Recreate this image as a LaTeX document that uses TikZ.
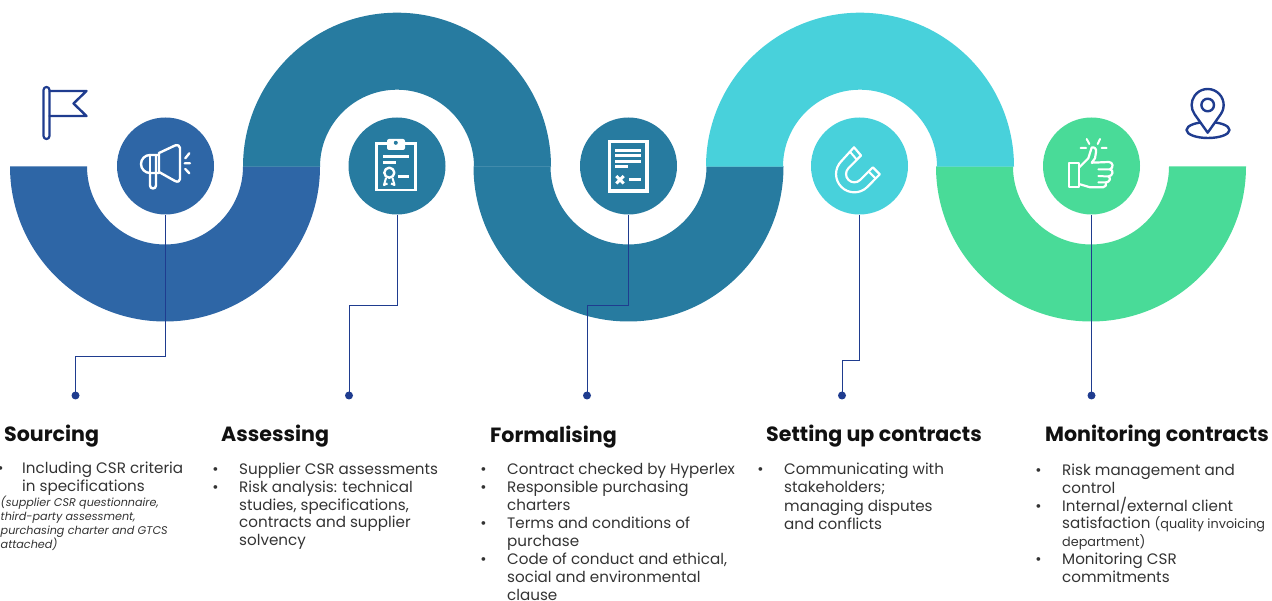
\documentclass[tikz,border=0pt]{standalone}
\usepackage{fontspec}
\setmainfont{Poppins}
\definecolor{cblue}{HTML}{2E66A6}
\definecolor{cteal}{HTML}{277BA0}
\definecolor{ccyan}{HTML}{48D1DB}
\definecolor{cgreen}{HTML}{49DB98}
\definecolor{cline}{HTML}{1F3C8F}
\definecolor{chead}{HTML}{111111}
\definecolor{cbody}{HTML}{333333}
\newcommand{\bul}{\llap{•\hspace{20.5pt}}}
\newcommand{\bulfirst}{\llap{•\hspace{18.5pt}}}
\newcommand{\smalltx}[1]{{\fontsize{12.8}{15}\selectfont #1}}
\tikzset{
  x=1pt,y=-1pt,
  hub/.style={circle,minimum size=97pt,inner sep=0pt,fill=#1},
  dotend/.style={circle,minimum size=8pt,inner sep=0pt,fill=cline},
  leader/.style={draw=cline,line width=0.9pt},
  ico/.style={draw=white,line width=2.4pt,line join=round,line cap=round},
  icob/.style={draw=cline,line width=2.4pt,line join=round,line cap=round},
  headtx/.style={anchor=north west,inner sep=0pt,text=chead,font=\fontsize{20.6}{24}\selectfont\bfseries},
  bodytx/.style={anchor=north west,inner sep=0pt,align=left,text=cbody,font=\fontsize{15.15}{#1}\selectfont},
  bodytx/.default=18.1,
  notetx/.style={anchor=north west,inner sep=0pt,align=left,text=cbody,font=\fontsize{11.2}{14}\selectfont\itshape},
}
\newcommand{\lowband}[2]{\fill[#2] (#1+155,166.5) arc[start angle=0,end angle=-180,radius=155pt] -- ++(77,0) arc[start angle=-180,end angle=0,radius=78pt] -- cycle;}
\newcommand{\upband}[2]{\fill[#2] (#1+154,166.7) arc[start angle=0,end angle=180,radius=154pt] -- ++(77,0) arc[start angle=180,end angle=0,radius=77pt] -- cycle;}
\begin{document}
\begin{tikzpicture}
\useasboundingbox (0,0) rectangle (1272,601);
% bands
\lowband{165}{cblue}
\lowband{628.5}{cteal}
\lowband{1091}{cgreen}
\upband{397}{cteal}
\upband{860}{ccyan}
% hubs
\node[hub=cblue] (h1) at (165.5,166) {};
\node[hub=cteal] (h2) at (397,166) {};
\node[hub=cteal] (h3) at (628.5,166) {};
\node[hub=ccyan] (h4) at (859.5,166) {};
\node[hub=cgreen] (h5) at (1091.5,166) {};
% end dots
\node[dotend] (d1) at (75.5,395.5) {};
\node[dotend] (d2) at (349,395.5) {};
\node[dotend] (d3) at (587,395.5) {};
\node[dotend] (d4) at (842,395.5) {};
\node[dotend] (d5) at (1091.5,395.5) {};
% leaders
\draw[leader] (h1.south) -- (165.5,356.5) -| (d1.center);
\draw[leader] (h2.south) -- (397,305.5) -| (d2.center);
\draw[leader] (h3.south) -- (628.5,305.5) -| (d3.center);
\draw[leader] (h4.south) -- (859.5,360.5) -| (d4.center);
\draw[leader] (h5.south) -- (d5.center);
% flag
\draw[icob,line width=2.2pt] (43.5,90) arc[start angle=180,end angle=0,radius=3pt] -- (49.5,136) arc[start angle=0,end angle=-180,radius=3pt] -- cycle;
\draw[icob] (49.5,91) -- (86.5,91) -- (73.5,103.5) -- (86.5,116) -- (49.5,116);
% pin
\draw[icob] (1208,130) ellipse[x radius=21.5pt,y radius=8pt];
\filldraw[icob,fill=white] (1207.7,132.7) -- (1220.7,114.25) arc[start angle=-35.3,end angle=215.3,radius=16pt] -- cycle;
\draw[icob] (1207.7,105) circle[radius=6.3pt];
% megaphone
\draw[ico] (159,153) -- (175,145.5) .. controls (178,144.5) and (180,146) .. (180,148) -- (180,179) .. controls (180,181) and (178,182.5) .. (175,181) -- (159,172) -- cycle;
\draw[ico] (159,155) -- (150,155) arc[start angle=90,end angle=270,radius=9pt] -- (159,173);
\draw[ico] (150,155) -- (150,173);
\draw[ico] (150,173) -- (150,185.5) arc[start angle=180,end angle=360,radius=3pt] -- (156,155);
\draw[ico] (185.3,158.3) -- (189.3,153.3) (184.7,163.3) -- (190,163.3) (185.3,169) -- (189.3,173.3);
% clipboard
\draw[ico,line width=2.8pt,line cap=butt,line join=miter] (387,143.7) -- (376.4,143.7) -- (376.4,190) -- (415.6,190) -- (415.6,143.7) -- (405,143.7);
\fill[white,rounded corners=2pt] (387,139) rectangle (405,150);
\fill[cteal] (395.8,142.8) circle[radius=2pt];
\draw[ico,line width=2.6pt,line cap=butt] (383.3,156.7) -- (409,156.7) (383.3,162.5) -- (395.7,162.5) (398.3,176.3) -- (409,176.3);
\draw[ico] (389.3,172.7) circle[radius=5pt];
\draw[ico,line cap=butt,line width=2pt] (386,178) -- (384,185) -- (387.5,183.5) (392.5,178) -- (394.5,185) -- (391,183.5);
% document
\draw[ico,line cap=butt,line join=miter,line width=3.4pt] (609.4,141.7) rectangle (646.8,191);
\draw[ico,line cap=butt,line width=2.8pt] (615,150.7) -- (641,150.7) (615,155.9) -- (641,155.9) (615,161.3) -- (641,161.3) (615,166.7) -- (627.7,166.7) (629,179.7) -- (641,179.7);
\draw[ico,line width=3pt,line cap=butt] (616.3,176) -- (623.7,183.4) (623.7,176) -- (616.3,183.4);
% magnet
\draw[ico,line width=2.2pt] (854,147.3) -- (841.4,161.1) arc[start angle=135,end angle=315,radius=18.3pt] -- (879.8,174.3) -- (872.8,167.3) -- (860.2,179.9) arc[start angle=-45,end angle=-225,radius=8.3pt] -- (861,155.5) -- cycle;
\draw[ico,line width=2pt,line cap=butt] (849.8,151.5) -- (856.8,159.7) (875.6,178.5) -- (868.6,171.5);
% thumb
\draw[ico,line width=2.2pt] (1069,163.3) rectangle (1079.3,187.3);
\draw[ico,line width=2.2pt] (1079.3,167.3) -- (1088.3,158.3) -- (1091.7,147.5) .. controls (1094,146.5) and (1097,149) .. (1096,152) -- (1095,158.3) -- (1091.7,162.7) -- (1109,162) .. controls (1113,162) and (1114,168) .. (1110,169.3) .. controls (1114,170) and (1113,176) .. (1108.5,176.5) .. controls (1111,178) and (1110,182) .. (1106,182.5) .. controls (1107,185) and (1105,187.3) .. (1103,187.3) -- (1090,187.3) -- (1080,184.3);
\draw[ico,line width=2pt] (1098.3,169.3) -- (1110,169.3) (1098.3,176) -- (1108.5,176.5) (1098.3,182.3) -- (1106,182.5);
\draw[ico,line width=2pt] (1086.7,139) -- (1089.3,144) (1100,139) -- (1097.7,144) (1080.7,148) -- (1086,148) (1101.7,148) -- (1106.7,148);
% headings
\node[headtx] (t1) at (4,425) {Sourcing};
\node[headtx] (t2) at (221,425) {Assessing};
\node[headtx] (t3) at (490,426) {Formalising};
\node[headtx] (t4) at (766,425) {Setting up contracts};
\node[headtx] (t5) at (1045,425) {Monitoring contracts};
% bodies
\node[bodytx] (b1) at (22,462) {\bulfirst Including CSR criteria\\in specifications};
\node[notetx] (n1) at (0.5,496) {(supplier CSR questionnaire,\\third-party assessment,\\purchasing charter and GTCS\\attached)};
\node[bodytx=17.75] (b2) at (239,463) {\bul Supplier CSR assessments\\\bul Risk analysis: technical\\studies, specifications,\\contracts and supplier\\solvency};
\node[bodytx=18] (b3) at (507,463) {\bul Contract checked by Hyperlex\\\bul Responsible purchasing\\charters\\\bul Terms and conditions of\\purchase\\\bul Code of conduct and ethical,\\social and environmental\\clause};
\node[bodytx=18.2] (b4) at (784,463) {\bul Communicating with\\stakeholders;\\managing disputes\\and conflicts};
\node[bodytx=17.9] (b5) at (1062,463.5) {\bul Risk management and\\control\\\bul Internal/external client\\satisfaction \smalltx{(quality invoicing}\\[-0.5pt]\smalltx{department)}\\\bul Monitoring CSR\\commitments};
\end{tikzpicture}
\end{document}
